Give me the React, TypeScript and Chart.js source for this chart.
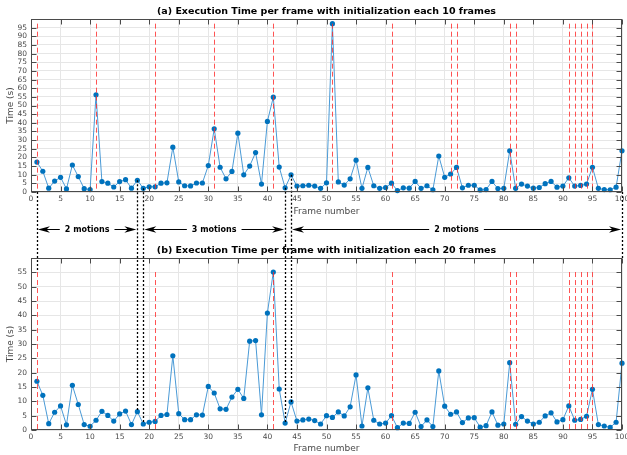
import React, { useEffect, useRef } from 'react';
import { Chart, registerables } from 'chart.js';

Chart.register(...registerables);

const FONT = '"DejaVu Sans", sans-serif';
const TITLE_A = '(a) Execution Time per frame with initialization each 10 frames';
const TITLE_B = '(b) Execution Time per frame with initialization each 20 frames';
const X_LABEL = 'Frame number';
const Y_LABEL = 'Time (s)';

// Execution time (s) per frame, frames 1..100
const timesA = [
  17.3, 12.0, 2.2, 6.3, 8.5, 1.8, 15.6, 8.9, 1.9, 1.4,
  56.2, 6.0, 5.1, 2.9, 6.0, 7.1, 2.2, 6.8, 2.1, 3.0,
  3.0, 5.1, 5.3, 25.9, 5.8, 3.6, 3.5, 5.2, 5.2, 15.3,
  36.5, 14.3, 7.6, 11.9, 34.0, 9.9, 15.0, 22.8, 4.6, 40.8,
  54.8, 14.4, 2.4, 9.9, 3.4, 3.6, 3.9, 3.4, 2.1, 5.3,
  97.3, 5.8, 4.0, 7.6, 18.4, 2.1, 14.2, 3.6, 2.1, 2.6,
  5.1, 0.8, 2.4, 2.2, 6.1, 2.1, 3.6, 1.3, 20.8, 8.5,
  10.4, 14.2, 2.4, 3.9, 3.9, 1.2, 1.4, 6.1, 2.0, 2.1,
  23.8, 2.1, 4.6, 3.4, 2.2, 2.6, 4.8, 6.1, 2.8, 3.4,
  8.2, 3.4, 3.8, 4.6, 14.3, 2.1, 1.4, 1.3, 2.8, 23.8,
];
const timesB = [
  17.0, 12.1, 2.2, 6.2, 8.4, 1.8, 15.6, 8.9, 1.9, 1.3,
  3.4, 6.5, 5.1, 3.1, 5.6, 6.6, 1.9, 6.4, 2.1, 2.7,
  3.0, 5.1, 5.4, 25.9, 5.7, 3.6, 3.6, 5.3, 5.2, 15.2,
  12.9, 7.4, 7.2, 11.5, 14.2, 11.0, 31.0, 31.2, 5.3, 40.8,
  55.1, 14.3, 2.4, 9.8, 3.1, 3.5, 3.8, 3.3, 2.1, 5.0,
  4.4, 6.3, 4.9, 8.1, 19.2, 1.4, 14.7, 3.4, 2.1, 2.4,
  5.0, 0.8, 2.4, 2.3, 6.2, 1.2, 3.5, 1.2, 20.6, 8.3,
  5.5, 6.3, 2.6, 4.2, 4.3, 1.0, 1.5, 6.3, 1.7, 2.1,
  23.5, 2.0, 4.7, 3.1, 2.1, 2.7, 4.9, 6.0, 2.8, 3.6,
  8.4, 3.4, 3.7, 4.8, 14.2, 1.9, 1.4, 0.9, 2.7, 23.3,
];

// frames where an initialization happens (red dashed lines)
const initFramesA = [1, 11, 21, 31, 41, 51, 61, 71, 72, 81, 82, 91, 92, 93, 94, 95];
const initFramesB = [1, 21, 41, 61, 81, 82, 91, 92, 93, 94, 95];

// black dotted connectors between the two panels
const linkFrames = [1, 18, 19, 43, 44, 100];
const linkFromA = [0, 6.8, 2.1, 2.4, 9.9, 0];
const linkToB = [55.1, 6.4, 2.1, 2.4, 9.8, 60];

// motion segments
const motionStart = [1, 19, 44];
const motionEnd = [18, 43, 100];
const motionLabels = ['2 motions', '3 motions', '2 motions'];

const X_MIN = 0;
const X_MAX = 100;
const TICK_STEP = 5;
const Y_MAX_A = 100;
const Y_MAX_B = 60;

const AXIS_COLOR = '#4a4a4a';
const GRID_COLOR = '#e6e6e6';

type PanelOpts = {
  values: number[];
  yMax: number;
  initFrames: number[];
  title: string;
  padTop: number;
  padBottom: number;
  xAxisH: number;
  panel: 'a' | 'b';
};

function arrowHead(ctx: CanvasRenderingContext2D, tipX: number, y: number, dir: number) {
  const L = 12, W = 3.2, back = 8.5;
  ctx.beginPath();
  ctx.moveTo(tipX, y);
  ctx.lineTo(tipX - dir * L, y - W);
  ctx.lineTo(tipX - dir * back, y);
  ctx.lineTo(tipX - dir * L, y + W);
  ctx.closePath();
  ctx.fill();
}

function makeChart(canvas: HTMLCanvasElement, o: PanelOpts) {
  const frames = o.values.map((_, i) => i + 1);
  const maxVal = Math.max(...o.values);

  const decor = {
    id: 'decor_' + o.panel,
    afterDatasetsDraw(chart: any) {
      const { ctx, scales } = chart;
      const x = scales.x, y = scales.y;
      ctx.save();
      // red dashed init lines
      ctx.strokeStyle = 'rgba(255,40,40,0.8)';
      ctx.lineWidth = 1;
      ctx.setLineDash([5, 3]);
      ctx.beginPath();
      const y0 = y.getPixelForValue(0);
      const yTop = y.getPixelForValue(maxVal);
      o.initFrames.forEach((f) => {
        const px = Math.round(x.getPixelForValue(f)) + 0.5;
        ctx.moveTo(px, yTop);
        ctx.lineTo(px, y0);
      });
      ctx.stroke();
      // black dotted connectors
      ctx.strokeStyle = '#000';
      ctx.lineWidth = 1.3;
      ctx.setLineDash([2, 2]);
      ctx.beginPath();
      linkFrames.forEach((f, i) => {
        const px = Math.round(x.getPixelForValue(f)) + 0.5;
        if (o.panel === 'a') {
          ctx.moveTo(px, y.getPixelForValue(linkFromA[i]));
          ctx.lineTo(px, chart.height);
        } else {
          ctx.moveTo(px, 0);
          ctx.lineTo(px, y.getPixelForValue(linkToB[i]));
        }
      });
      ctx.stroke();
      ctx.restore();
    },
    afterDraw(chart: any) {
      const { ctx, chartArea: ca, scales } = chart;
      const x = scales.x, y = scales.y;
      ctx.save();
      // box
      ctx.strokeStyle = AXIS_COLOR;
      ctx.lineWidth = 1;
      ctx.setLineDash([]);
      const l = Math.round(ca.left) + 0.5, r = Math.round(ca.right) - 0.5;
      const t = Math.round(ca.top) + 0.5, b = Math.round(ca.bottom) - 0.5;
      ctx.strokeRect(l, t, r - l, b - t);
      // inward ticks
      const TL = 5;
      ctx.beginPath();
      for (let v = X_MIN; v <= X_MAX; v += TICK_STEP) {
        const px = Math.round(x.getPixelForValue(v)) + 0.5;
        ctx.moveTo(px, b); ctx.lineTo(px, b - TL);
        ctx.moveTo(px, t); ctx.lineTo(px, t + TL);
      }
      for (let v = 0; v <= o.yMax; v += TICK_STEP) {
        const py = Math.round(y.getPixelForValue(v)) + 0.5;
        ctx.moveTo(l, py); ctx.lineTo(l + TL, py);
        ctx.moveTo(r, py); ctx.lineTo(r - TL, py);
      }
      ctx.stroke();
      // title
      ctx.fillStyle = '#000';
      ctx.font = 'bold 9.5px ' + FONT;
      ctx.textAlign = 'center';
      ctx.textBaseline = 'middle';
      ctx.fillText(o.title, (ca.left + ca.right) / 2, ca.top - 7.5);
      // motion annotations
      if (o.panel === 'a') {
        const ay = 229.5;
        ctx.font = 'bold 8px ' + FONT;
        ctx.strokeStyle = '#000';
        ctx.fillStyle = '#000';
        ctx.lineWidth = 1;
        motionStart.forEach((s, i) => {
          const xs = x.getPixelForValue(s);
          const xe = x.getPixelForValue(motionEnd[i]);
          const cx = (xs + xe) / 2;
          const tw = ctx.measureText(motionLabels[i]).width;
          ctx.beginPath();
          ctx.moveTo(xs + 8, ay);
          ctx.lineTo(cx - tw / 2 - 5, ay);
          ctx.moveTo(cx + tw / 2 + 5, ay);
          ctx.lineTo(xe - 8, ay);
          ctx.stroke();
          arrowHead(ctx, xs + 1, ay, -1);
          arrowHead(ctx, xe - 1, ay, 1);
          ctx.fillText(motionLabels[i], cx, ay);
        });
      }
      ctx.restore();
    },
  };

  return new Chart(canvas, {
    type: 'line',
    data: {
      datasets: [
        {
          data: frames.map((f, i) => ({ x: f, y: o.values[i] })),
          borderColor: '#4a9ad6',
          borderWidth: 1,
          pointRadius: 2.6,
          pointHoverRadius: 2.6,
          pointBackgroundColor: '#0072BD',
          pointBorderWidth: 0,
          tension: 0,
          clip: 6,
        },
      ],
    },
    options: {
      responsive: false,
      animation: false,
      events: [],
      layout: { padding: { top: o.padTop, right: 5, bottom: o.padBottom, left: 0 } },
      plugins: { legend: { display: false }, tooltip: { enabled: false }, title: { display: false } },
      scales: {
        x: {
          type: 'linear',
          min: X_MIN,
          max: X_MAX,
          ticks: {
            stepSize: TICK_STEP,
            autoSkip: false,
            maxRotation: 0,
            color: AXIS_COLOR,
            font: { family: FONT, size: 7.5 },
            padding: 3,
          },
          grid: { color: GRID_COLOR, drawTicks: false, lineWidth: 1 },
          border: { display: false },
          title: {
            display: true,
            text: X_LABEL,
            color: AXIS_COLOR,
            font: { family: FONT, size: 9 },
            padding: { top: 0, bottom: 1 },
          },
          afterFit: (s: any) => {
            s.height = o.xAxisH;
            s.paddingLeft = 0;
            s.paddingRight = 0;
          },
        },
        y: {
          min: 0,
          max: o.yMax,
          ticks: {
            stepSize: TICK_STEP,
            autoSkip: false,
            color: AXIS_COLOR,
            font: { family: FONT, size: 7.5 },
            padding: 4,
            callback: (v: any) => (v === o.yMax ? '' : String(v)),
          },
          grid: { color: GRID_COLOR, drawTicks: false, lineWidth: 1 },
          border: { display: false },
          title: {
            display: true,
            text: Y_LABEL,
            color: AXIS_COLOR,
            font: { family: FONT, size: 9 },
            padding: { top: 5, bottom: 0 },
          },
          afterFit: (s: any) => {
            s.width = 31;
            s.paddingTop = 0;
            s.paddingBottom = 0;
          },
        },
      },
    } as any,
    plugins: [decor],
  });
}

export default function App() {
  const topRef = useRef<HTMLCanvasElement>(null);
  const botRef = useRef<HTMLCanvasElement>(null);

  useEffect(() => {
    const a = makeChart(topRef.current as HTMLCanvasElement, {
      values: timesA,
      yMax: Y_MAX_A,
      initFrames: initFramesA,
      title: TITLE_A,
      padTop: 19,
      padBottom: 22,
      xAxisH: 26,
      panel: 'a',
    });
    const b = makeChart(botRef.current as HTMLCanvasElement, {
      values: timesB,
      yMax: Y_MAX_B,
      initFrames: initFramesB,
      title: TITLE_B,
      padTop: 18,
      padBottom: 0,
      xAxisH: 25,
      panel: 'b',
    });
    return () => {
      a.destroy();
      b.destroy();
    };
  }, []);

  return (
    <div style={{ position: 'absolute', left: 0, top: 0, width: 627, height: 455, background: '#fff' }}>
      <canvas
        ref={topRef}
        width={627}
        height={240}
        style={{ position: 'absolute', left: 0, top: 0, width: 627, height: 240 }}
      />
      <canvas
        ref={botRef}
        width={627}
        height={215}
        style={{ position: 'absolute', left: 0, top: 240, width: 627, height: 215 }}
      />
    </div>
  );
}
